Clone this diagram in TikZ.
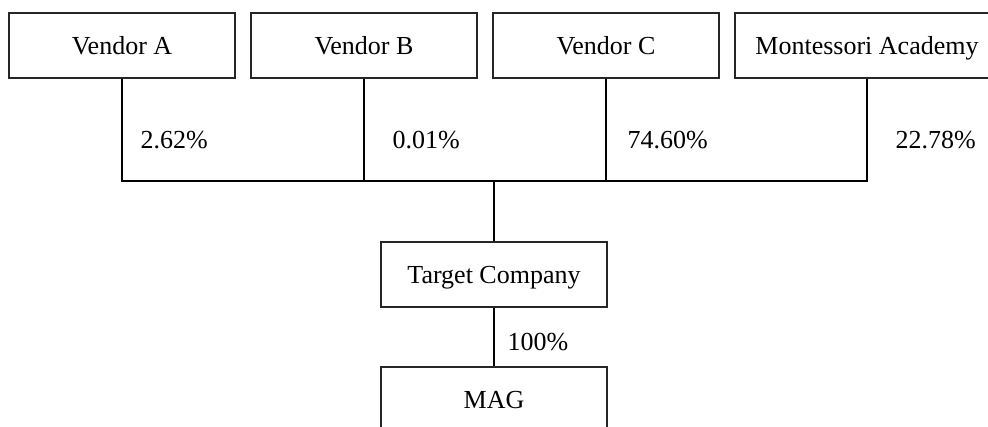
\documentclass[tikz,border=0pt]{standalone}
\usepackage{fontspec}
\setmainfont{Liberation Serif}
\usetikzlibrary{positioning}

\begin{document}
\begin{tikzpicture}[x=1pt,y=-1pt,line width=1.1pt,
  box/.style={draw=black!85, minimum width=226pt, minimum height=65pt, inner sep=0pt, text height=17pt, text depth=0pt, font=\fontsize{26}{30}\selectfont},
  pct/.style={anchor=west, inner sep=0pt, font=\fontsize{26}{30}\selectfont}]
\clip (0,0) rectangle (988,426);
% owners
\node[box] (va) at (122,45.5) {Vendor A};
\node[box] (vb) at (364,45.5) {Vendor B};
\node[box] (vc) at (606,45.5) {Vendor C};
\node[box, minimum width=264pt] (ma) at (867,45.5) {Montessori Academy};
\node[box] (tc) at (494,274.5) {Target Company};
\node[box] (mag) at (494,399.5) {MAG};
\coordinate (bus) at (494,181);
% shares
\node[pct] (pa) at (140,140) {2.62\%};
\node[pct] (pb) at (392,140) {0.01\%};
\node[pct] (pc) at (627,140) {74.60\%};
\node[pct] (pm) at (895,140) {22.78\%};
\node[pct] (pt) at (507,342) {100\%};
\draw (va.south) |- (bus) -| (ma.south);
\draw (vb.south) |- (bus);
\draw (vc.south) |- (bus);
\draw (bus) -- (tc.north);
\draw (tc.south) -- (mag.north);
\end{tikzpicture}
\end{document}
